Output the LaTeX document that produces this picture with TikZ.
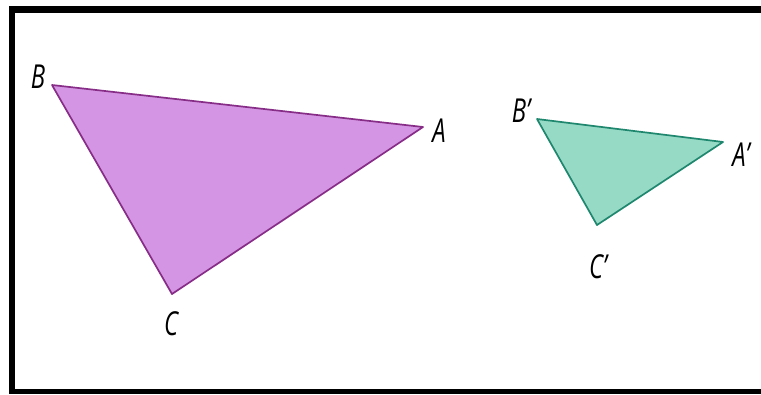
\documentclass[tikz,border=0pt]{standalone}
\usepackage{fontspec}
\setmainfont{Open Sans}
\usepackage{tikz}
\usetikzlibrary{calc,positioning}
\definecolor{bigfill}{RGB}{212,150,228}
\definecolor{bigedge}{RGB}{135,45,135}
\definecolor{smallfill}{RGB}{150,218,198}
\definecolor{smalledge}{RGB}{30,135,110}
\tikzset{
  vlabel/.style={inner sep=0pt,font=\fontsize{33}{33}\selectfont\itshape,xscale=0.72,transform shape},
  bigtri/.style={fill=bigfill,draw=bigedge,line width=1.7pt,line join=round},
  smalltri/.style={fill=smallfill,draw=smalledge,line width=1.7pt,line join=round},
  frame/.style={fill=black,draw=none},
}
\begin{document}
\begin{tikzpicture}[x=1pt,y=-1pt]
  \useasboundingbox[fill=white] (0,0) rectangle (761,394);
  % frame
  \fill[frame] (9,6) rectangle (761,13);
  \fill[frame] (9,6) rectangle (15,394);
  \fill[frame] (9,389) rectangle (761,394);
  % triangle ABC
  \coordinate (B) at (52,85);
  \coordinate (A) at (423,127);
  \coordinate (C) at (172,294);
  \draw[bigtri] (B) -- (A) -- (C) -- cycle;
  \node[vlabel] (lB) at (38,77) {B};
  \node[vlabel] (lA) at (439,131) {A};
  \node[vlabel] (lC) at (171,324) {C};
  % triangle A'B'C'
  \coordinate (B') at (537,119);
  \coordinate (A') at (723,142);
  \coordinate (C') at (597,225);
  \draw[smalltri] (B') -- (A') -- (C') -- cycle;
  \node[vlabel] (lB') at (521,111) {B'};
  \node[vlabel] (lA') at (741,155) {A'};
  \node[vlabel] (lC') at (598,267) {C'};
\end{tikzpicture}
\end{document}
